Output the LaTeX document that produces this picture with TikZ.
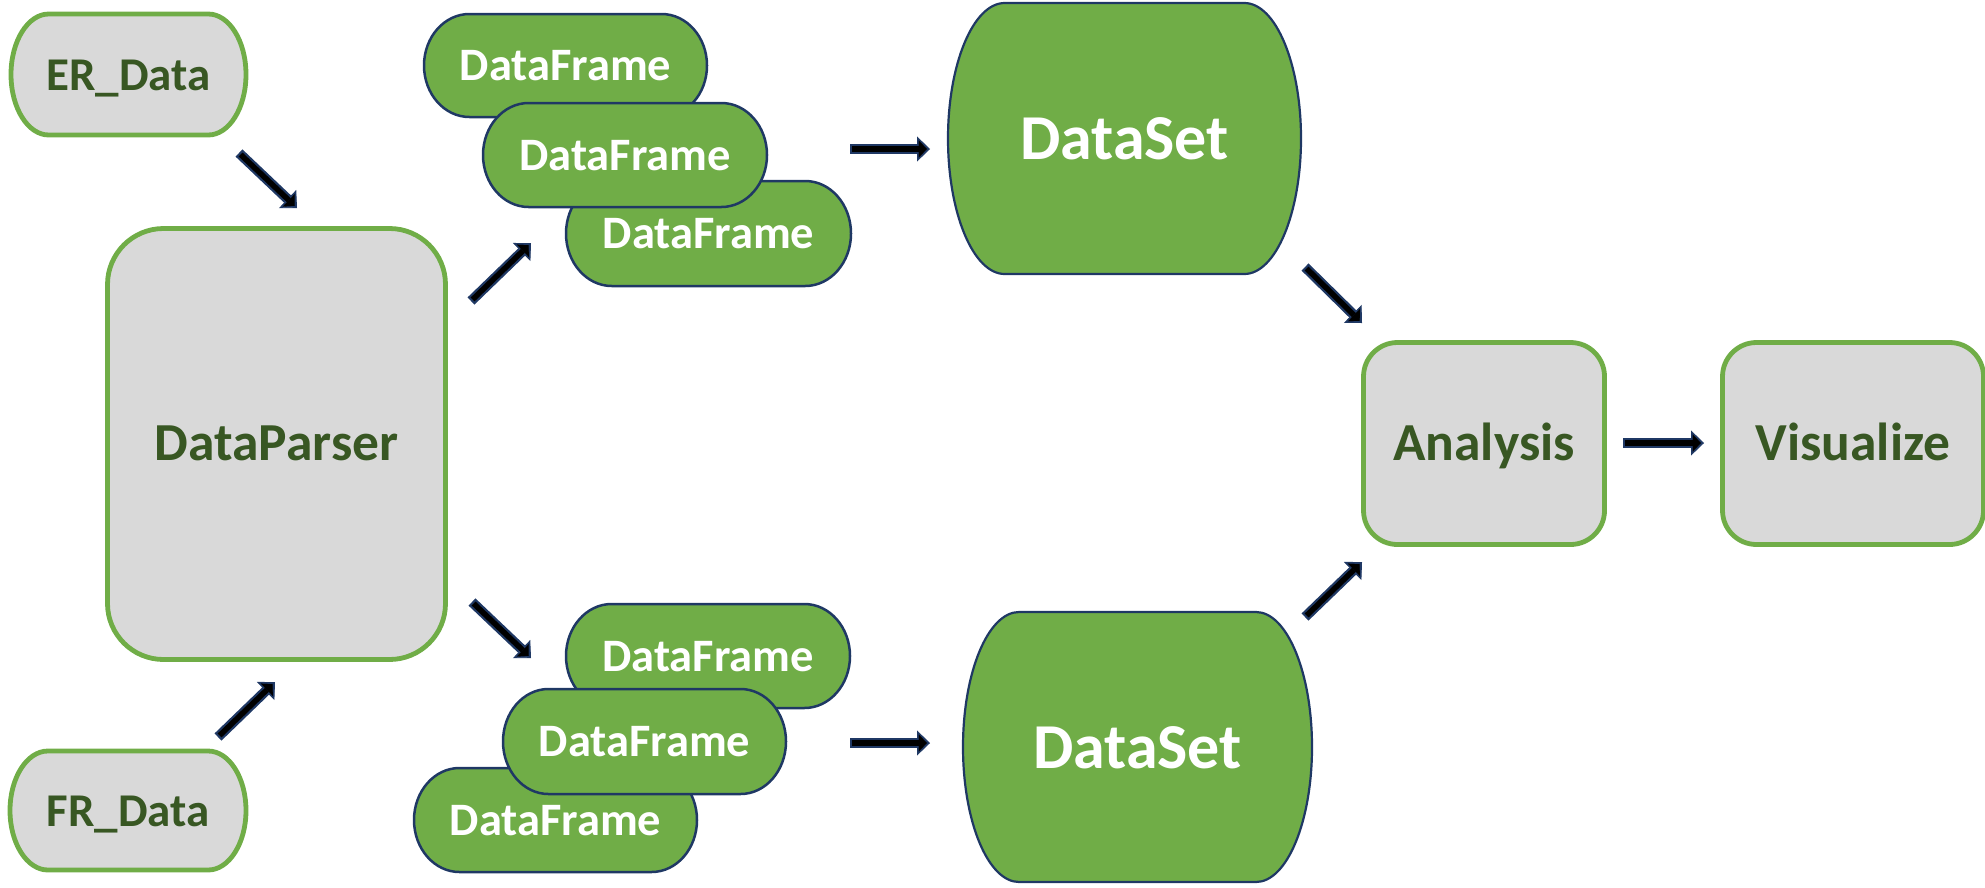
\documentclass[tikz,border=0pt]{standalone}
\usepackage{fontspec}
\setmainfont{Carlito}
\usetikzlibrary{arrows.meta}

\definecolor{boxgray}{HTML}{D9D9D9}
\definecolor{leaf}{HTML}{70AD47}
\definecolor{forest}{HTML}{385723}
\definecolor{ink}{HTML}{1F3864}

\tikzset{
  graybox/.style={fill=boxgray, draw=leaf, line width=4.8pt},
  greenbox/.style={fill=leaf, draw=ink, line width=2.5pt},
  setbox/.style={fill=leaf, draw=ink, line width=2.2pt},
  roundbox/.style={graybox, rounded corners=#1, inner sep=0pt},
  termtext/.style={text=forest, font=\bfseries\fontsize{47}{47}\selectfont,
    inner sep=0pt, text height=29pt, text depth=0pt},
  frametext/.style={text=white, font=\bfseries\fontsize{46.5}{46.5}\selectfont,
    inner sep=0pt, text height=28.5pt, text depth=0pt},
  settext/.style={text=white, font=\bfseries\fontsize{64}{64}\selectfont,
    inner sep=0pt, text height=40pt, text depth=0pt},
  steptext/.style={text=forest, font=\bfseries\fontsize{53.5}{53.5}\selectfont,
    text height=33.5pt, text depth=0pt},
  flow/.style={draw=ink, line width=10pt,
    -{Triangle[length=13pt,width=25pt,line width=0.8pt]},
    postaction={draw=black, line width=5.5pt,
      -{Triangle[length=8pt,width=17pt,line width=0.1pt]},
      shorten >=3.2pt, shorten <=2.2pt}}
}

% Terminal shape with half-elliptic ends, plus a named label node at its centre.
% #1 name, #2 x1, #3 y1, #4 x2, #5 y2, #6 shape style, #7 label style, #8 text
\newcommand\terminal[8]{%
  \pgfmathsetmacro\trx{0.1606*(#4-#2)}%
  \pgfmathsetmacro\try{(#5-#3)/2}%
  \path[#6] (#2+\trx,#3) -- (#4-\trx,#3)
    arc[start angle=-90,end angle=90,x radius=\trx,y radius=\try]
    -- (#2+\trx,#5)
    arc[start angle=90,end angle=270,x radius=\trx,y radius=\try] -- cycle;
  \node[#7] (#1) at ({(#2+#4)/2},{(#3+#5)/2+1}) {#8};
}

\begin{document}
\begin{tikzpicture}[x=1pt,y=-1pt]
\useasboundingbox (0,0) rectangle (1985,887);

% sources
\terminal{er}{11}{14}{246}{135}{graybox}{termtext}{ER\_Data}
\terminal{fr}{10}{751}{246}{870}{graybox}{termtext}{FR\_Data}

% parser
\node[roundbox=56pt, minimum width=338pt, minimum height=431pt, steptext]
  (parser) at (276.5,444) {DataParser};

% upper stack of frames
\terminal{dfa}{424}{14}{707}{117}{greenbox}{frametext}{DataFrame}
\terminal{dfc}{566}{181}{851}{286}{greenbox}{frametext}{DataFrame}
\terminal{dfb}{483}{103}{767}{207}{greenbox}{frametext}{DataFrame}

% lower stack of frames
\terminal{dfd}{566}{604}{850}{708}{greenbox}{frametext}{DataFrame}
\terminal{dff}{414}{768}{697}{872}{greenbox}{frametext}{DataFrame}
\terminal{dfe}{503}{689}{786}{794}{greenbox}{frametext}{DataFrame}

% data sets
\terminal{dsa}{948}{3}{1301}{274}{setbox}{settext}{DataSet}
\terminal{dsb}{963}{612}{1312}{882}{setbox}{settext}{DataSet}

% analysis and output
\node[roundbox=34pt, minimum width=241pt, minimum height=202pt, steptext]
  (analysis) at (1484,443.5) {Analysis};
\node[roundbox=34pt, minimum width=261pt, minimum height=202pt, steptext]
  (visual) at (1853,443.5) {Visualize};

% connector ends
\coordinate (erOut) at (239,153);   \coordinate (pInA) at (297,208);
\coordinate (frOut) at (218,737);   \coordinate (pInB) at (275,682);
\coordinate (pOutA) at (471,301);   \coordinate (dfaIn) at (531,243);
\coordinate (pOutB) at (472,602);   \coordinate (dfdIn) at (531,658);
\coordinate (dfaOut) at (850,149);  \coordinate (dsaIn) at (930,149);
\coordinate (dfdOut) at (850,743);  \coordinate (dsbIn) at (930,743);
\coordinate (dsaOut) at (1305,267); \coordinate (anInA) at (1362,323);
\coordinate (dsbOut) at (1305,617); \coordinate (anInB) at (1362,562);
\coordinate (anOut) at (1623,443);  \coordinate (visIn) at (1704,443);

\draw[flow] (erOut) -- (pInA);
\draw[flow] (frOut) -- (pInB);
\draw[flow] (pOutA) -- (dfaIn);
\draw[flow] (pOutB) -- (dfdIn);
\draw[flow] (dfaOut) -- (dsaIn);
\draw[flow] (dfdOut) -- (dsbIn);
\draw[flow] (dsaOut) -- (anInA);
\draw[flow] (dsbOut) -- (anInB);
\draw[flow] (anOut) -- (visIn);
\end{tikzpicture}
\end{document}
